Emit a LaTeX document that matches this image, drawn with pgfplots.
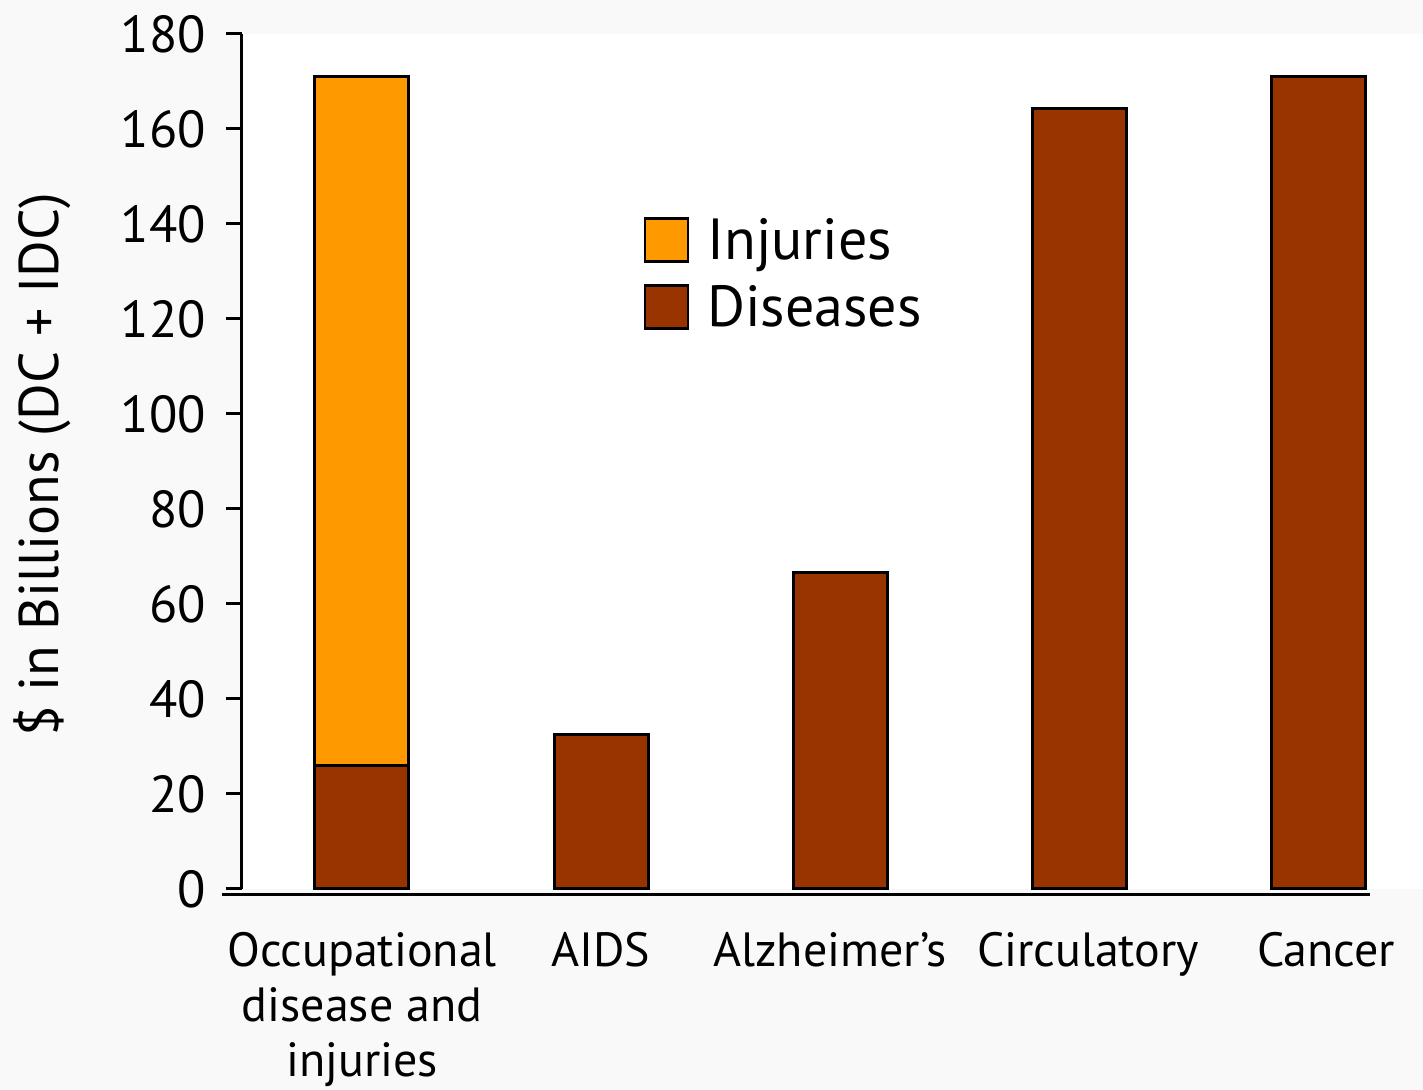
\documentclass[border=0pt]{standalone}
\usepackage{fontspec}
\setmainfont{PT Sans}
\usepackage{pgfplots}
\pgfplotsset{compat=1.18}
\definecolor{bggrey}{HTML}{F9F9F9}
\definecolor{injcol}{HTML}{FF9900}
\definecolor{discol}{HTML}{993300}
\begin{document}
\begin{tikzpicture}
\fill[bggrey] (-121pt,-100.5pt) rectangle (590.5pt,444.5pt);
\useasboundingbox (-121pt,-100.5pt) rectangle (590.5pt,444.5pt);
\begin{axis}[
  at={(0,0)}, anchor=south west,
  width=590.5pt, height=427.5pt, scale only axis,
  axis background/.style={fill=white},
  xmin=-0.502, xmax=4.439, ymin=0, ymax=180,
  axis lines*=left,
  x axis line style={draw=none},
  y axis line style={line width=1.5pt},
  ytick={0,20,...,180},
  tick align=outside,
  major tick length=8pt,
  ytick style={line width=1.5pt, black},
  xtick={0,1,2,3,4},
  xtick style={draw=none},
  xticklabels={{\strut Occupational\\disease and\\injuries},{\strut AIDS},{\strut Alzheimer’s\hspace*{10pt}},{\hspace*{9pt}\strut Circulatory},{\hspace*{8pt}\strut Cancer}},
  xticklabel style={font=\fontsize{24}{27.5}\selectfont, align=center, anchor=north, yshift=-8pt},
  yticklabel style={font=\fontsize{26}{28.5}\selectfont, xshift=-6.5pt},
  /pgf/number format/assume math mode=true,
  ylabel={\$ in Billions (DC + IDC)},
  ylabel style={at={(axis description cs:-0.169,0.496)}, anchor=center, font=\fontsize{28}{30}\selectfont},
  clip=false,
  legend style={at={(axis description cs:0.335,0.794)}, anchor=north west, draw=none, fill=none, font=\fontsize{29}{32}\selectfont, row sep=7.5pt,
    nodes={inner xsep=9pt}},
  legend cell align=left,
  mylegend/.style={legend image code/.code={\draw[##1, line width=1.2pt] (0pt,-10.5pt) rectangle (21.5pt,11pt);}},
]
\addplot[ybar, bar shift=0pt, bar width=47pt, fill=injcol, draw=black, line width=1.5pt, mylegend] coordinates {(0,171)};
\addlegendentry{Injuries}
\addplot[ybar, bar shift=0pt, bar width=47pt, fill=discol, draw=black, line width=1.5pt, mylegend] coordinates {(0,26) (1,32.6) (2,66.7) (3,164.4) (4,171)};
\addlegendentry{Diseases}
\draw[line width=1.5pt] (axis cs:-0.586,-1.26) -- (axis cs:4.218,-1.26);
\end{axis}
\end{tikzpicture}
\end{document}
